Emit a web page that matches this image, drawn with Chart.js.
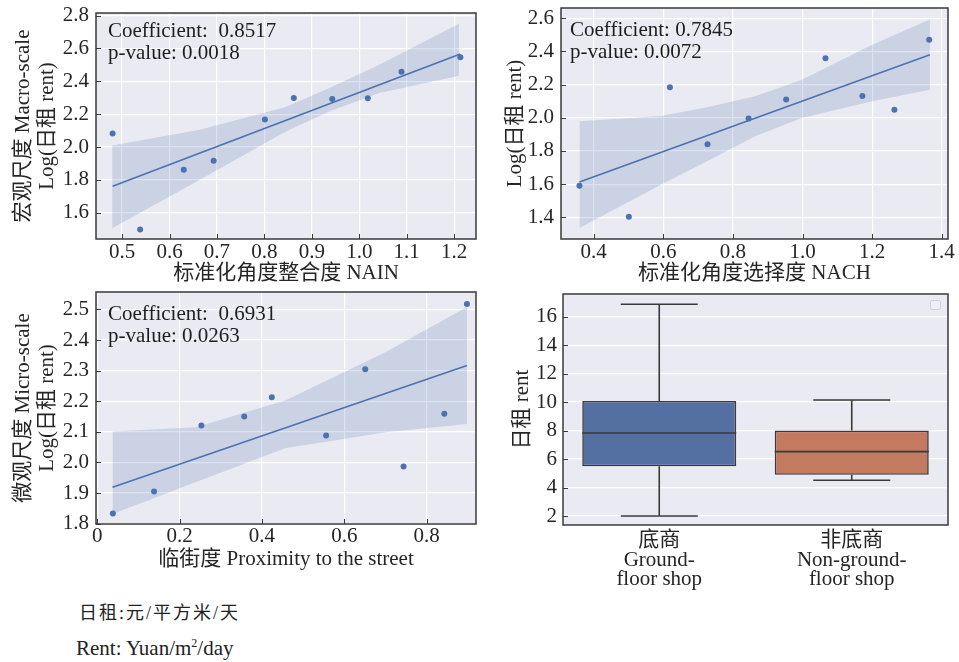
<!DOCTYPE html>
<html>
<head>
<meta charset="utf-8">
<script src="https://cdn.jsdelivr.net/npm/chart.js@4.4.0/dist/chart.umd.min.js"></script>
<style>
body{margin:0;background:#fff;width:959px;height:662px;overflow:hidden;position:relative;
     font-family:'Liberation Serif','Noto Sans CJK SC',serif;color:#222;}
.panel{position:absolute;}
.note{position:absolute;font-size:21px;line-height:21px;white-space:nowrap;}
</style>
</head>
<body>
<div class="panel" style="left:0;top:0"><canvas id="c1" width="480" height="290"></canvas></div>
<div class="panel" style="left:480px;top:0"><canvas id="c2" width="479" height="290"></canvas></div>
<div class="panel" style="left:0;top:285px"><canvas id="c3" width="480" height="290"></canvas></div>
<div class="panel" style="left:480px;top:285px"><canvas id="c4" width="479" height="310"></canvas></div>
<div class="note" style="left:79px;top:603px;font-size:18px;line-height:20px;letter-spacing:2px">日租:元/平方米/天</div>
<div class="note" style="left:76px;top:638px">Rent: Yuan/m<span style="font-size:12px;position:relative;top:-8px">2</span>/day</div>
<script>
// ---- data ----
// panel 1 : NAIN
var nainX = [0.480, 0.538, 0.630, 0.693, 0.801, 0.862, 0.943, 1.018, 1.089, 1.213];
var nainY = [2.083, 1.498, 1.861, 1.916, 2.168, 2.298, 2.292, 2.297, 2.459, 2.546];
var nainFitX = [0.480, 1.213];
var nainFitY = [1.761, 2.566];
var nainBandX = [0.479, 0.664, 0.845, 0.937, 1.042, 1.210];
var nainBandUp = [2.010, 2.105, 2.243, 2.359, 2.501, 2.751];
var nainBandLow = [1.505, 1.800, 2.095, 2.217, 2.329, 2.434];
var nainXTicks = [0.5, 0.6, 0.7, 0.8, 0.9, 1.0, 1.1, 1.2];
var nainYTicks = [1.6, 1.8, 2.0, 2.2, 2.4, 2.6, 2.8];

// panel 2 : NACH
var nachX = [0.359, 0.501, 0.619, 0.727, 0.845, 0.953, 1.066, 1.172, 1.264, 1.364];
var nachY = [1.590, 1.403, 2.184, 1.840, 1.995, 2.110, 2.359, 2.132, 2.048, 2.471];
var nachFitX = [0.359, 1.366];
var nachFitY = [1.613, 2.380];
var nachBandX = [0.359, 0.593, 0.726, 0.864, 0.998, 1.200, 1.366];
var nachBandUp = [1.979, 2.011, 2.063, 2.130, 2.230, 2.441, 2.592];
var nachBandLow = [1.335, 1.596, 1.738, 1.888, 1.999, 2.099, 2.169];
var nachXTicks = [0.4, 0.6, 0.8, 1.0, 1.2, 1.4];
var nachYTicks = [1.4, 1.6, 1.8, 2.0, 2.2, 2.4, 2.6];

// panel 3 : proximity to the street
var proxX = [0.038, 0.138, 0.253, 0.357, 0.424, 0.556, 0.651, 0.744, 0.843, 0.898];
var proxY = [1.833, 1.905, 2.121, 2.150, 2.213, 2.088, 2.305, 1.987, 2.159, 2.518];
var proxFitX = [0.037, 0.898];
var proxFitY = [1.919, 2.317];
var proxBandX = [0.037, 0.240, 0.458, 0.599, 0.700, 0.898];
var proxBandUp = [2.101, 2.115, 2.203, 2.295, 2.360, 2.508];
var proxBandLow = [1.832, 1.936, 2.047, 2.077, 2.099, 2.126];
var proxXTicks = [0, 0.2, 0.4, 0.6, 0.8];
var proxYTicks = [1.8, 1.9, 2.0, 2.1, 2.2, 2.3, 2.4, 2.5];

// panel 4 : box plot of rent
var shopCategories = [['底商', 'Ground-', 'floor shop'], ['非底商', 'Non-ground-', 'floor shop']];
var boxMin = [2.0, 4.51];
var boxQ1 = [5.49, 4.90];
var boxMedian = [7.83, 6.52];
var boxQ3 = [10.08, 8.00];
var boxMax = [16.87, 10.15];
var rentTicks = [2, 4, 6, 8, 10, 12, 14, 16];

// ---- styles ----
var BLUE = '#4C72B0';
var BAND = 'rgba(76,114,176,0.2)';
var DARK = '#3a3a3a';
var TXT = '#262626';
var FAM = "'Liberation Serif','Noto Sans CJK SC',serif";
var boxColors = ['#5470A3', '#C37A5E'];

// background, frame, inward tick marks, text notes
Chart.register({
	id: 'deco',
	beforeDraw: function(chart){
		var a = chart.chartArea, ctx = chart.ctx;
		ctx.save();
		ctx.fillStyle = '#EAEAF2';
		ctx.fillRect(a.left, a.top, a.right - a.left, a.bottom - a.top);
		ctx.restore();
	},
	afterDraw: function(chart, args, opts){
		var a = chart.chartArea, ctx = chart.ctx;
		ctx.save();
		ctx.strokeStyle = DARK;
		ctx.lineWidth = 1;
		ctx.beginPath();
		if(opts.xTicks !== false){
			chart.scales.x.ticks.forEach(function(t){
				var px = Math.round(chart.scales.x.getPixelForValue(t.value)) + 0.5;
				ctx.moveTo(px, a.bottom); ctx.lineTo(px, a.bottom - 5);
			});
		}
		chart.scales.y.ticks.forEach(function(t){
			var py = Math.round(chart.scales.y.getPixelForValue(t.value)) + 0.5;
			ctx.moveTo(a.left, py); ctx.lineTo(a.left + 5, py);
		});
		ctx.stroke();
		ctx.lineWidth = 1.5;
		ctx.strokeRect(a.left, a.top, a.right - a.left, a.bottom - a.top);
		if(opts.lines){
			ctx.fillStyle = '#1e1e1e';
			ctx.font = '21px ' + FAM;
			ctx.textBaseline = 'alphabetic';
			opts.lines.forEach(function(s, i){
				ctx.fillText(s, a.left + opts.dx, a.top + opts.dy + i * 22);
			});
		}
		if(opts.legendBox){
			ctx.fillStyle = '#EFEFF5';
			ctx.strokeStyle = '#CFCFD8';
			ctx.lineWidth = 1;
			ctx.beginPath();
			ctx.roundRect(a.right - 17.5, a.top + 6.5, 10, 9, 2);
			ctx.fill(); ctx.stroke();
		}
		ctx.restore();
	}
});

function fmt1(v){ return v === 0 ? '0' : v.toFixed(1); }

function pts(xs, ys){ return xs.map(function(x, i){ return {x: x, y: ys[i]}; }); }

// fixed axis box sizes, no extra room for overhanging labels
function fixH(h){ return function(s){ s.height = h; s.paddingLeft = 0; s.paddingRight = 0; s.paddingTop = 0; s.paddingBottom = 0; }; }
function fixW(w){ return function(s){ s.width = w; s.paddingLeft = 0; s.paddingRight = 0; s.paddingTop = 0; s.paddingBottom = 0; }; }

function regPanel(id, c){
	return new Chart(document.getElementById(id), {
		type: 'scatter',
		data: {
			datasets: [
				{data: pts(c.x, c.y), backgroundColor: BLUE, borderWidth: 0, pointRadius: 3, order: 0},
				{type: 'line', data: pts(c.fitX, c.fitY), borderColor: BLUE, borderWidth: 1.6, pointRadius: 0, fill: false, order: 1},
				{type: 'line', data: pts(c.bandX, c.bandUp), borderColor: 'rgba(0,0,0,0)', backgroundColor: BAND, pointRadius: 0, fill: '+1', order: 2},
				{type: 'line', data: pts(c.bandX, c.bandLow), borderColor: 'rgba(0,0,0,0)', pointRadius: 0, fill: false, order: 3}
			]
		},
		options: {
			responsive: false,
			animation: false,
			events: [],
			layout: {padding: {left: 0, top: c.padTop, right: c.padRight, bottom: 0}},
			plugins: {
				legend: {display: false},
				tooltip: {enabled: false},
				deco: {lines: c.notes, dx: c.noteDx, dy: c.noteDy}
			},
			scales: {
				x: {
					type: 'linear', min: c.xMin, max: c.xMax,
					afterBuildTicks: function(s){ s.ticks = c.xTicks.map(function(v){ return {value: v}; }); },
					afterFit: fixH(c.xH),
					grid: {color: '#fff', lineWidth: 1.2, drawTicks: false},
					border: {display: false},
					ticks: {color: TXT, font: {family: FAM, size: 21}, padding: c.xTickPad, autoSkip: false, maxRotation: 0, callback: fmt1},
					title: {display: true, text: c.xTitle, color: TXT, font: {family: FAM, size: 21, lineHeight: 1.15}, padding: {top: 0, bottom: c.xTitlePad}}
				},
				y: {
					type: 'linear', min: c.yMin, max: c.yMax,
					afterBuildTicks: function(s){ s.ticks = c.yTicks.map(function(v){ return {value: v}; }); },
					afterFit: fixW(c.yW),
					grid: {color: '#fff', lineWidth: 1.2, drawTicks: false},
					border: {display: false},
					ticks: {color: TXT, font: {family: FAM, size: 21}, padding: 7, autoSkip: false, callback: fmt1},
					title: {display: true, text: c.yTitle, color: TXT, font: {family: FAM, size: 21, lineHeight: 1.15}, padding: {top: c.yTitlePad, bottom: 0}}
				}
			}
		}
	});
}

regPanel('c1', {
	x: nainX, y: nainY, fitX: nainFitX, fitY: nainFitY, bandX: nainBandX, bandUp: nainBandUp, bandLow: nainBandLow,
	xTicks: nainXTicks, yTicks: nainYTicks, xMin: 0.445, xMax: 1.246, yMin: 1.44, yMax: 2.816,
	padTop: 13, padRight: 3, xH: 51, yW: 96, xTickPad: 1, xTitlePad: 4, yTitlePad: 11,
	xTitle: '标准化角度整合度 NAIN', yTitle: ['宏观尺度 Macro-scale', 'Log(日租 rent)'],
	notes: ['Coefficient:  0.8517', 'p-value: 0.0018'], noteDx: 12, noteDy: 24
});

regPanel('c2', {
	x: nachX, y: nachY, fitX: nachFitX, fitY: nachFitY, bandX: nachBandX, bandUp: nachBandUp, bandLow: nachBandLow,
	xTicks: nachXTicks, yTicks: nachYTicks, xMin: 0.306, xMax: 1.418, yMin: 1.269, yMax: 2.662,
	padTop: 8, padRight: 11, xH: 51, yW: 81, xTickPad: 1, xTitlePad: 4, yTitlePad: 23,
	xTitle: '标准化角度选择度 NACH', yTitle: 'Log(日租 rent)',
	notes: ['Coefficient: 0.7845', 'p-value: 0.0072'], noteDx: 9, noteDy: 28
});

regPanel('c3', {
	x: proxX, y: proxY, fitX: proxFitX, fitY: proxFitY, bandX: proxBandX, bandUp: proxBandUp, bandLow: proxBandLow,
	xTicks: proxXTicks, yTicks: proxYTicks, xMin: -0.003, xMax: 0.920, yMin: 1.799, yMax: 2.557,
	padTop: 7, padRight: 3, xH: 51, yW: 96, xTickPad: 0, xTitlePad: 3, yTitlePad: 11,
	xTitle: '临街度 Proximity to the street', yTitle: ['微观尺度 Micro-scale', 'Log(日租 rent)'],
	notes: ['Coefficient:  0.6931', 'p-value: 0.0263'], noteDx: 12, noteDy: 28
});

// whiskers, caps and medians on top of the floating boxes
var boxWhiskers = {
	id: 'boxWhiskers',
	afterDatasetsDraw: function(chart){
		var ctx = chart.ctx, x = chart.scales.x, y = chart.scales.y;
		ctx.save();
		ctx.strokeStyle = DARK;
		ctx.lineWidth = 1.6;
		chart.getDatasetMeta(0).data.forEach(function(bar, i){
			var cx = x.getPixelForValue(i), half = bar.width / 2, cap = bar.width / 4;
			var yMin = y.getPixelForValue(boxMin[i]), yMax = y.getPixelForValue(boxMax[i]);
			var yQ1 = y.getPixelForValue(boxQ1[i]), yQ3 = y.getPixelForValue(boxQ3[i]);
			var yMed = y.getPixelForValue(boxMedian[i]);
			ctx.beginPath();
			ctx.moveTo(cx, yQ3); ctx.lineTo(cx, yMax);
			ctx.moveTo(cx - cap, yMax); ctx.lineTo(cx + cap, yMax);
			ctx.moveTo(cx, yQ1); ctx.lineTo(cx, yMin);
			ctx.moveTo(cx - cap, yMin); ctx.lineTo(cx + cap, yMin);
			ctx.moveTo(cx - half, yMed); ctx.lineTo(cx + half, yMed);
			ctx.stroke();
		});
		ctx.restore();
	}
};

new Chart(document.getElementById('c4'), {
	type: 'bar',
	data: {
		labels: shopCategories,
		datasets: [{
			data: boxQ1.map(function(q, i){ return [q, boxQ3[i]]; }),
			backgroundColor: boxColors,
			borderColor: DARK,
			borderWidth: 1.6,
			borderSkipped: false,
			barPercentage: 0.8,
			categoryPercentage: 1
		}]
	},
	options: {
		responsive: false,
		animation: false,
		events: [],
		layout: {padding: {left: 0, top: 9, right: 11, bottom: 0}},
		plugins: {
			legend: {display: false},
			tooltip: {enabled: false},
			deco: {xTicks: false, legendBox: true}
		},
		scales: {
			x: {
				afterFit: fixH(70),
				grid: {display: false, drawTicks: false},
				border: {display: false},
				ticks: {color: TXT, font: {family: FAM, size: 21, lineHeight: '19.5px'}, padding: 6, autoSkip: false, maxRotation: 0}
			},
			y: {
				min: 1.37, max: 17.59,
				afterBuildTicks: function(s){ s.ticks = rentTicks.map(function(v){ return {value: v}; }); },
				afterFit: fixW(83),
				grid: {color: '#fff', lineWidth: 1.2, drawTicks: false},
				border: {display: false},
				ticks: {color: TXT, font: {family: FAM, size: 21}, padding: 6, autoSkip: false},
				title: {display: true, text: '日租 rent', color: TXT, font: {family: FAM, size: 21, lineHeight: 1.15}, padding: {top: 30, bottom: 0}}
			}
		}
	},
	plugins: [boxWhiskers]
});
</script>
</body>
</html>
